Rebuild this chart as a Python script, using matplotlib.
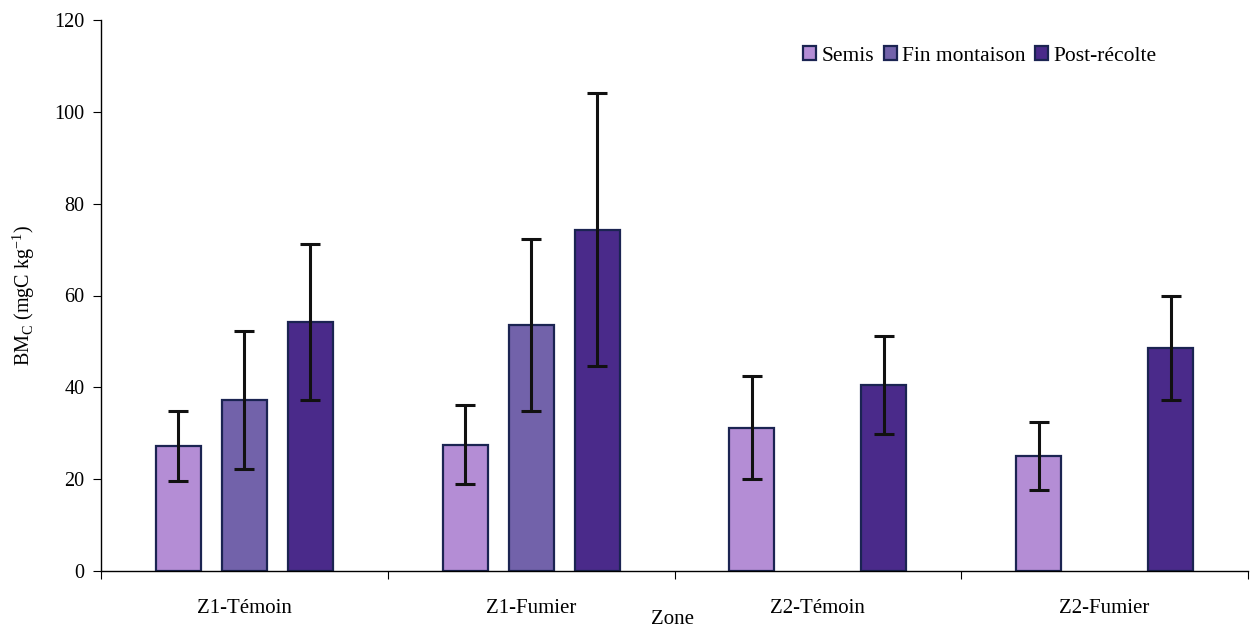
import matplotlib.pyplot as plt
import numpy as np

plt.rcParams['font.family'] = ['Liberation Serif', 'DejaVu Serif']
plt.rcParams['mathtext.fontset'] = 'custom'
plt.rcParams['mathtext.rm'] = 'Liberation Serif'

zones = ['Z1-Témoin', 'Z1-Fumier', 'Z2-Témoin', 'Z2-Fumier']
series = ['Semis', 'Fin montaison', 'Post-récolte']
# mean values (NaN = no measurement)
semis = [27.2, 27.5, 31.2, 25.0]
fin_montaison = [37.3, 53.6, np.nan, np.nan]
post_recolte = [54.2, 74.3, 40.5, 48.5]
# error bars
err_semis = [7.7, 8.6, 11.2, 7.4]
err_fin = [15.0, 18.8, np.nan, np.nan]
err_post = [17.0, 29.7, 10.6, 11.3]

colors = ['#b48dd5', '#7262aa', '#4a2a8a']
values = [semis, fin_montaison, post_recolte]
errors = [err_semis, err_fin, err_post]

fig = plt.figure(figsize=(12.55, 6.3), dpi=100)
ax = fig.add_axes([101/1255, 1-571/630, (1248-101)/1255, (571-20)/630])

x = np.arange(len(zones))
width = 0.157
step = 0.23
for i, (vals, errs, c, lab) in enumerate(zip(values, errors, colors, series)):
    xs = x + (i - 1) * step
    ax.bar(xs, vals, width, color=c, edgecolor='#1b2452', linewidth=1.6, label=lab, zorder=2)
    ax.errorbar(xs, vals, yerr=errs, fmt='none', ecolor='#111111', elinewidth=2.2,
                capsize=7, capthick=2.2, zorder=3)

ax.set_xlim(-0.5, 3.5)
ax.set_ylim(0, 120)
ax.set_yticks(range(0, 121, 20))
ax.set_xticks(np.arange(-0.5, 3.6, 1))
ax.set_xticklabels([])
ax.set_xticks(x, minor=True)
ax.set_xticklabels(zones, minor=True)
ax.tick_params(axis='x', which='minor', length=0, pad=20, labelsize=15)
ax.tick_params(axis='x', which='major', length=6, direction='out')
ax.tick_params(axis='y', length=6, direction='out', labelsize=14.5, pad=6)
for s in ['top', 'right']:
    ax.spines[s].set_visible(False)
for s in ['left', 'bottom']:
    ax.spines[s].set_linewidth(1.0)

ax.set_ylabel('BM$_\\mathrm{C}$ (mgC kg$^{\\mathrm{-1}}$)', fontsize=14.5, labelpad=12)
fig.text(672/1255, 1-619/630, 'Zone', ha='center', va='center', fontsize=15)

ax.legend(loc='center', bbox_to_anchor=(980/1255, 1-56/630), bbox_transform=fig.transFigure,
          ncol=3, frameon=False, fontsize=15.5, handlelength=0.6, handleheight=0.6,
          handletextpad=0.25, columnspacing=0.45)

fig.savefig('out.png', dpi=100)
